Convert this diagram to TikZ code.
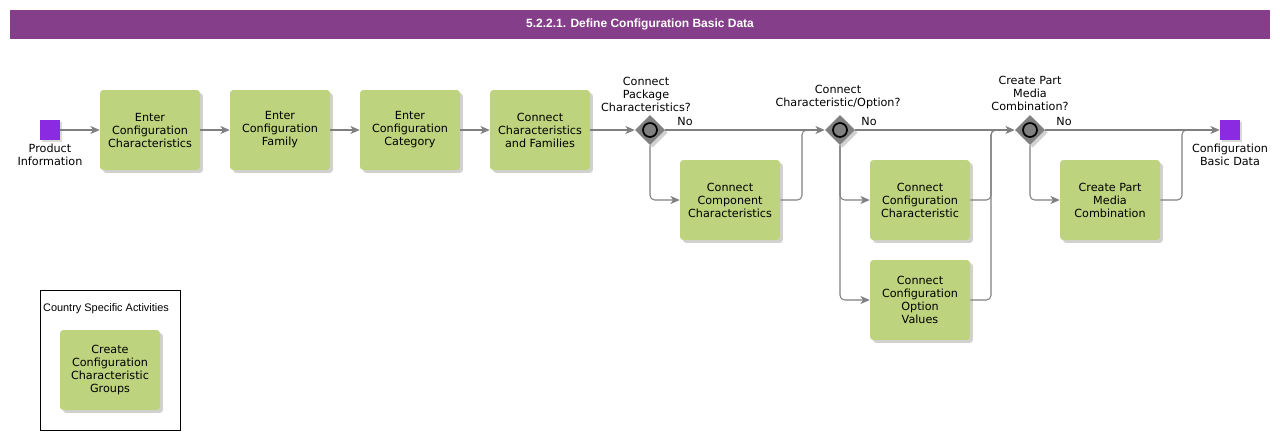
\documentclass[tikz,border=0pt]{standalone}
\usepackage{fontspec}
\setmainfont{DejaVu Sans}
\newfontfamily\arialfont{Liberation Sans}
\usetikzlibrary{shapes.geometric,shadows,arrows.meta}
\definecolor{boxgreen}{RGB}{189,211,125}
\definecolor{evpurple}{RGB}{138,43,226}
\definecolor{titlepurple}{RGB}{133,62,138}
\definecolor{linegray}{RGB}{128,128,128}
\definecolor{gwgray}{RGB}{128,128,128}
\begin{document}
\begin{tikzpicture}[x=0.75pt,y=-0.75pt,
  txt/.style={font=\fontsize{8.4}{9.75}\selectfont, align=center, inner sep=0pt},
  task/.style={txt, fill=boxgreen, rounded corners=2.5pt, minimum width=75pt, minimum height=60pt,
     drop shadow={shadow xshift=2.2pt, shadow yshift=-2.2pt, fill=black, opacity=0.18}},
  event/.style={fill=evpurple, minimum size=15pt, inner sep=0pt,
     drop shadow={shadow xshift=1.5pt, shadow yshift=-1.5pt, fill=black, opacity=0.15}},
  gateway/.style={diamond, fill=gwgray, minimum width=22.5pt, minimum height=22.5pt, inner sep=0pt,
     drop shadow={shadow xshift=2pt, shadow yshift=-2pt, fill=black, opacity=0.18}},
  ring/.style={circle, draw=black, line width=1.3pt, fill=gwgray, minimum size=10.5pt, inner sep=0pt},
  flow/.style={draw=linegray, line width=0.8pt, -{Stealth[length=7pt, width=6pt, inset=2pt]}},
  merge/.style={draw=linegray, line width=0.8pt, rounded corners=3.5pt},
  lbl/.style={txt}
]
\useasboundingbox (0,0) rectangle (1280,440);

% title
\node[fill=titlepurple, minimum width=945pt, minimum height=21.75pt, inner sep=0pt,
      text=white, font=\arialfont\bfseries\fontsize{9}{11}\selectfont] (title) at (640,24.5)
      {5.2.2.1. Define Configuration Basic Data};

% events
\node[event] (s) at (50,130) {};
\node[lbl, anchor=north] (sl) at (50,144) {Product\\Information};
\node[event] (e) at (1230,130) {};
\node[lbl, anchor=north] (el) at (1230,144) {Configuration\\Basic Data};

% tasks
\node[task] (t1) at (150,130) {Enter\\Configuration\\Characteristics};
\node[task] (t2) at (280,130) {Enter\\Configuration\\Family};
\node[task] (t3) at (410,130) {Enter\\Configuration\\Category};
\node[task] (t4) at (540,130) {Connect\\Characteristics\\and Families};
\node[task] (t5) at (730,200) {Connect\\Component\\Characteristics};
\node[task] (t6) at (920,200) {Connect\\Configuration\\Characteristic};
\node[task] (t7) at (920,300) {Connect\\Configuration\\Option\\Values};
\node[task] (t8) at (1110,200) {Create Part\\Media\\Combination};

% gateways
\node[gateway] (g1) at (650,130) {};
\node[ring] at (g1) {};
\node[gateway] (g2) at (840,130) {};
\node[ring] at (g2) {};
\node[gateway] (g3) at (1030,130) {};
\node[ring] at (g3) {};

\node[lbl, anchor=south] (g1l) at (646,112) {Connect\\Package\\Characteristics?};
\node[lbl, anchor=south] (g2l) at (838,109) {Connect\\Characteristic/Option?};
\node[lbl, anchor=south] (g3l) at (1030,111) {Create Part\\Media\\Combination?};

\node[lbl] (n1) at (685,121) {No};
\node[lbl] (n2) at (869,121) {No};
\node[lbl] (n3) at (1064,121) {No};

% junction points
\coordinate (j1) at (802,130);
\coordinate (j1e) at (815,130);
\coordinate (j2) at (991,130);
\coordinate (j2e) at (1004,130);
\coordinate (j3) at (1182,130);
\coordinate (j3e) at (1195,130);

% flows
\draw[flow] (s) -- (t1);
\draw[flow] (t1) -- (t2);
\draw[flow] (t2) -- (t3);
\draw[flow] (t3) -- (t4);
\draw[flow] (t4) -- (g1);
\draw[flow] (g1) -- (g2);
\draw[flow] (g2) -- (g3);
\draw[flow] (g3) -- (e);

\draw[flow, rounded corners=3.5pt] (g1.south) |- (t5.west);
\draw[merge] (t5.east) -| (j1) -- (j1e);

\draw[flow, rounded corners=3.5pt] (g2.south) |- (t6.west);
\draw[flow, rounded corners=3.5pt] (g2.south) |- (t7.west);
\draw[merge] (t6.east) -| (j2) -- (j2e);
\draw[merge] (t7.east) -| (j2) -- (j2e);

\draw[flow, rounded corners=3.5pt] (g3.south) |- (t8.west);
\draw[merge] (t8.east) -| (j3) -- (j3e);

% country specific group
\draw[black, line width=0.6pt] (40,290) rectangle (180,430);
\node[inner sep=0pt, font=\arialfont\fontsize{8.2}{10}\selectfont] (cl) at (106,309) {Country Specific Activities};
\node[task] (t9) at (110,370) {Create\\Configuration\\Characteristic\\Groups};
\end{tikzpicture}
\end{document}
